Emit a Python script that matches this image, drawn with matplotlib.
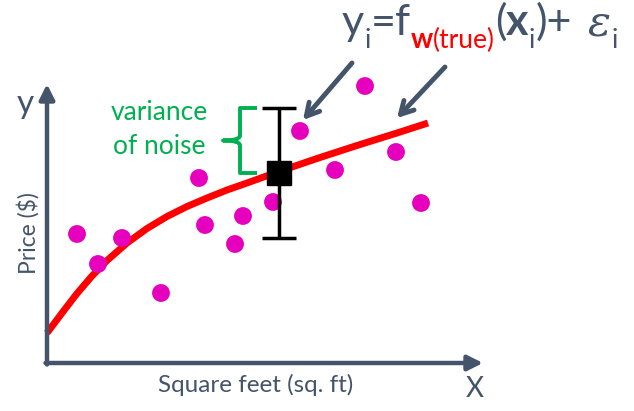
import numpy as np
import matplotlib.pyplot as plt
from matplotlib.path import Path
from matplotlib.patches import PathPatch

plt.rcParams['font.family'] = ['Lato', 'DejaVu Sans']

# Data (arbitrary units, origin at the corner of the axes)
sqft = [30, 51, 75, 114, 152, 158, 188, 196, 226, 253, 288, 318, 349, 374]
price = [129, 99, 125, 70, 185, 138, 119, 147, 161, 232, 193, 277, 211, 160]

# true function f_w(true)
curve_x = [0, 15, 30, 45, 60, 80, 100, 120, 140, 160, 180, 200, 232, 270, 310, 350, 381]
curve_y = [30, 50, 69.5, 87, 102.5, 120, 134.5, 146.5, 156.5, 165, 173, 180, 191.5, 204.5, 217.5, 230, 240]

mean_x, mean_y = 232, 190
noise = 65

gray = '#44546A'
green = '#00B050'
magenta = '#E600BE'

fig = plt.figure(figsize=(6.34, 4.11), dpi=100)
ax = fig.add_axes([0, 0, 1, 1])
ax.set_xlim(-47, 587)
ax.set_ylim(-48, 363)
ax.axis('off')

# axes with arrow heads
arrow_kw = dict(arrowstyle='-|>,head_length=0.9,head_width=0.45', lw=3.2,
                color=gray, shrinkA=0, shrinkB=0)
ax.annotate('', xy=(0, 279), xytext=(0, -1.5), arrowprops=arrow_kw)
ax.annotate('', xy=(436, 0), xytext=(-1.5, 0), arrowprops=arrow_kw)

# true function and observations
ax.plot(curve_x, curve_y, color='#FF0000', lw=5, solid_capstyle='butt',
        solid_joinstyle='round', zorder=2)
ax.scatter(sqft, price, s=165, color=magenta, edgecolors='none', zorder=3)

# noise bar around f(x)
ax.errorbar([mean_x], [mean_y], yerr=noise, fmt='s', color='black', ms=17,
            elinewidth=2.5, capsize=12, capthick=2.5, zorder=4)

# curly brace: top of bar down to the mean
top, bot = mean_y + noise, mean_y
mid = (top + bot) / 2
xr, xv, xt = mean_x - 22, mean_x - 39, mean_x - 56
verts = [(xr, top), (xv, top), (xv, top - 6),
         (xv, mid + 5), (xv, mid), (xt, mid),
         (xv, mid), (xv, mid - 5),
         (xv, bot + 6), (xv, bot), (xr, bot)]
codes = [Path.MOVETO, Path.LINETO, Path.LINETO,
         Path.LINETO, Path.CURVE3, Path.CURVE3,
         Path.CURVE3, Path.CURVE3,
         Path.LINETO, Path.LINETO, Path.LINETO]
ax.add_patch(PathPatch(Path(verts, codes), fill=False, ec=green, lw=2.8,
                       joinstyle='round', capstyle='butt'))

ax.text(112, 250, 'variance', color=green, fontsize=19, ha='center', va='center')
ax.text(112, 216, 'of noise', color=green, fontsize=19, ha='center', va='center')

# axis labels
ax.text(-22, 259, 'y', color=gray, fontsize=24, ha='center', va='center')
ax.text(428, -26, 'X', color=gray, fontsize=20, ha='center', va='center')
ax.text(-19, 130, 'Price ($)', color=gray, fontsize=16.5, rotation=90,
        ha='center', va='center')
ax.text(209, -22, 'Square feet (sq. ft)', color=gray, fontsize=17.5,
        ha='center', va='center')

# equation  y_i = f_w(true)(x_i) + eps_i
base, sub = 328, 315
big, small = 31, 19
t = ax.text(295, base, 'y', fontsize=big, color=gray, va='baseline')


def nxt(prev, s, y, size, color=gray, dx=0, **kw):
    return ax.annotate(s, xy=(1, y), xycoords=(prev, 'data'), xytext=(dx, 0),
                       textcoords='offset pixels', fontsize=size, color=color,
                       va='baseline', ha='left', **kw)


t = nxt(t, 'i', sub, small)
t = nxt(t, '=f', base, big)
t = nxt(t, 'w', sub, small + 1, color='#FF0000', fontweight='bold')
t = nxt(t, '(true)', sub, small, color='#FF0000')
t = nxt(t, '(', base, big)
t = nxt(t, 'x', base, big, fontweight='bold')
t = nxt(t, 'i', sub, small)
t = nxt(t, ')+', base, big)
t = nxt(t, 'ε', base, big, dx=16, family='DejaVu Serif', fontstyle='italic')
t = nxt(t, 'i', sub, small, dx=1)

# pointers from the equation
ptr = dict(arrowstyle='->,head_length=0.9,head_width=0.5', lw=3.5,
           color=gray, shrinkA=0, shrinkB=0)
ax.annotate('', xy=(256, 243), xytext=(305, 300), arrowprops=ptr)
ax.annotate('', xy=(350, 245), xytext=(398, 296), arrowprops=ptr)

fig.savefig('out.png', dpi=100)
